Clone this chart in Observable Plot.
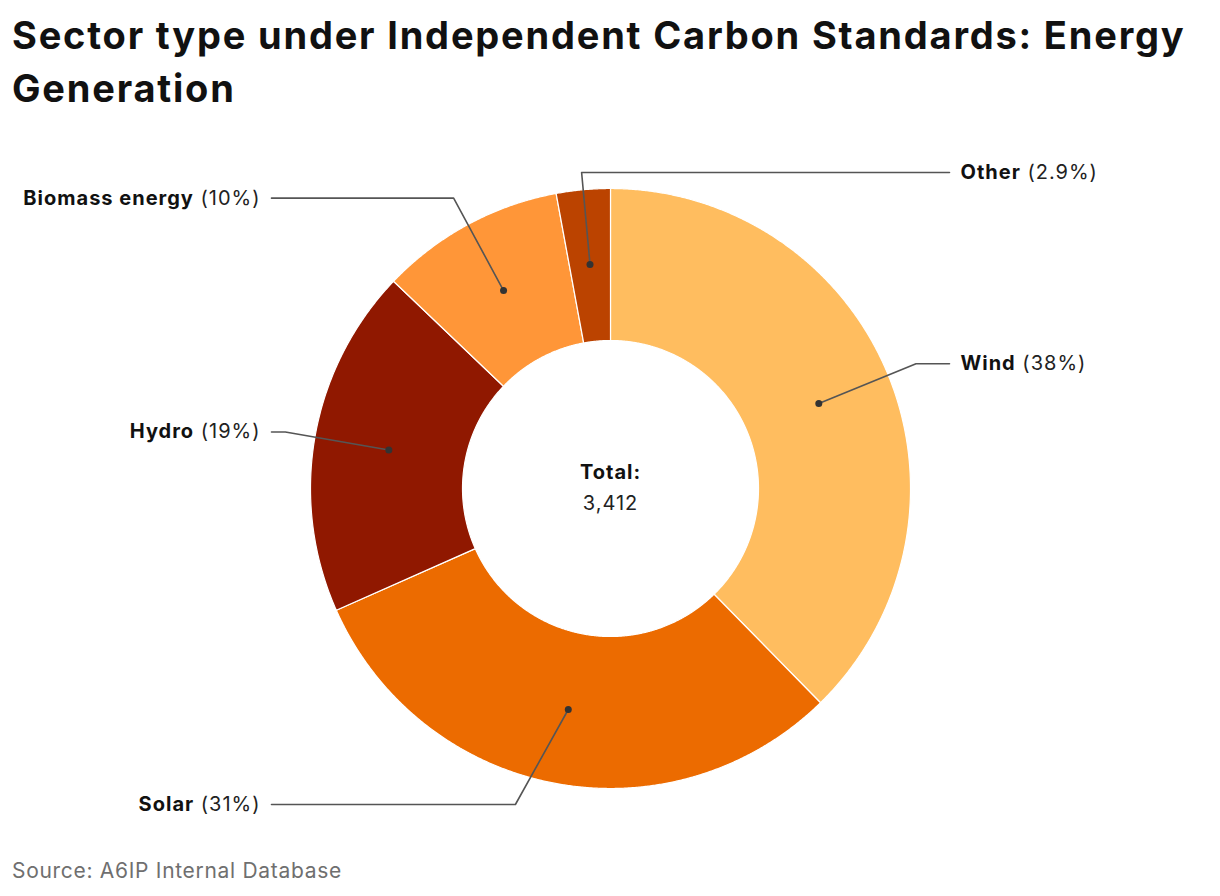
<!DOCTYPE html>
<html>
<head>
<meta charset="utf-8">
<script src="https://cdn.jsdelivr.net/npm/d3@7"></script>
<script src="https://cdn.jsdelivr.net/npm/@observablehq/plot@0.6"></script>
<style>
  html, body { margin: 0; padding: 0; background: #fff; }
  body { width: 1220px; font-family: Inter, "Noto Sans", sans-serif; color: #111; }
  #title { box-sizing: border-box; height: 128px; padding: 9px 12px 0 12px; font-weight: 700; font-size: 38px; line-height: 53px; letter-spacing: 1.8px; }
  #chart svg { display: block; }
  #source { margin-top: 11px; padding-left: 12px; font-size: 21px; line-height: 24px; letter-spacing: 0.7px; color: #6f6f6f; }
</style>
</head>
<body>
<div id="title">Sector type under Independent Carbon Standards: Energy Generation</div>
<div id="chart"></div>
<div id="source">Source: A6IP Internal Database</div>
<script>
// ---- data ----
const names = ["Wind", "Solar", "Hydro", "Biomass energy", "Other"];
const values = [1285, 1047, 641, 340, 99];
const colors = ["#ffbd5f", "#ec6b00", "#901800", "#ff9638", "#bb4300"];
const totalLabel = "Total:";

// ---- layout constants ----
const W = 1220, H = 720;
const R_OUT = 300, R_IN = 148, R_DOT = 225, R_ELBOW = 330, Y_LIMIT = 316;
const X_LINE_END = 339, X_LABEL = 350, MIN_GAP = 30;
const FONT = "Inter", FS = 20, LS = 1.0;

const total = d3.sum(values);
const fmtPct = d3.format(".2~p");
const arcs = d3.pie().sort(null)(values);

const pol = (r, a) => ({x: r * Math.sin(a), y: -r * Math.cos(a)});

// slice polygons
const slicePts = [];
arcs.forEach((a, i) => {
  const n = Math.max(2, Math.ceil((a.endAngle - a.startAngle) / (Math.PI / 720)));
  const pts = [];
  for (let k = 0; k <= n; k++) pts.push(pol(R_OUT, a.startAngle + (a.endAngle - a.startAngle) * k / n));
  for (let k = n; k >= 0; k--) pts.push(pol(R_IN, a.startAngle + (a.endAngle - a.startAngle) * k / n));
  pts.push(pts[0]);
  pts.forEach(p => slicePts.push({...p, name: names[i]}));
});

// leaders & labels
const leaderPts = [], dots = [], labels = [];
const ctx = document.createElement("canvas").getContext("2d");
const measure = (txt, weight) => { ctx.font = `${weight} ${FS}px ${FONT}`; return ctx.measureText(txt).width + LS * txt.length; };
const placed = {left: [], right: []};
arcs.forEach((a, i) => {
  const mid = (a.startAngle + a.endAngle) / 2;
  const d = pol(R_DOT, mid);
  let e = pol(R_ELBOW, mid);
  let right = e.x >= 0;
  const side0 = right ? "right" : "left";
  let flipped = false;
  const ey0 = Math.max(-Y_LIMIT, Math.min(Y_LIMIT, e.y));
  if (placed[side0].some(y => Math.abs(y - ey0) < MIN_GAP)) { right = !right; flipped = true; }
  if (Math.abs(e.y) > Y_LIMIT) {
    if (flipped) { const s = Y_LIMIT / Math.abs(e.y); e = {x: e.x * s, y: e.y * s}; }
    else { const y = Math.sign(e.y) * Y_LIMIT; e = {x: Math.sign(e.x) * Math.sqrt(R_ELBOW * R_ELBOW - y * y), y}; }
  }
  placed[right ? "right" : "left"].push(e.y);
  const endX = right ? X_LINE_END : -X_LINE_END;
  [d, e, {x: endX, y: e.y}].forEach(p => leaderPts.push({...p, name: names[i]}));
  dots.push({...d, name: names[i]});
  const pct = "(" + fmtPct(values[i] / total) + ")";
  const space = measure(" ", 400);
  if (right) {
    labels.push({x: X_LABEL, y: e.y, text: names[i], bold: true, anchor: "start"});
    labels.push({x: X_LABEL + measure(names[i], 700) + space, y: e.y, text: pct, bold: false, anchor: "start"});
  } else {
    labels.push({x: -X_LABEL, y: e.y, text: pct, bold: false, anchor: "end"});
    labels.push({x: -X_LABEL - measure(pct, 400) - space, y: e.y, text: names[i], bold: true, anchor: "end"});
  }
});

const center = [
  {x: 0, y: -16, text: totalLabel, bold: true},
  {x: 0, y: 15, text: d3.format(",")(total), bold: false}
];

const textOpts = (anchor, bold) => ({x: "x", y: "y", text: "text", textAnchor: anchor, fontSize: FS, fontWeight: bold ? 700 : 400, fill: bold ? "#111" : "#222"});

const plot = Plot.plot({
  width: W, height: H,
  margin: 0,
  x: {domain: [-W / 2, W / 2], range: [0, W], axis: null},
  y: {domain: [-H / 2, H / 2], range: [0, H], axis: null},
  color: {domain: names, range: colors},
  style: {fontFamily: FONT, background: "white", letterSpacing: LS + "px"},
  marks: [
    Plot.line(slicePts, {x: "x", y: "y", z: "name", fill: "name", stroke: "white", strokeWidth: 1.2, curve: "linear"}),
    Plot.line(leaderPts, {x: "x", y: "y", z: "name", stroke: "#555", strokeWidth: 1.6, curve: "linear"}),
    Plot.dot(dots, {x: "x", y: "y", r: 3.5, fill: "#333", stroke: "none"}),
    Plot.text(labels.filter(d => d.bold && d.anchor === "start"), textOpts("start", true)),
    Plot.text(labels.filter(d => !d.bold && d.anchor === "start"), textOpts("start", false)),
    Plot.text(labels.filter(d => d.bold && d.anchor === "end"), textOpts("end", true)),
    Plot.text(labels.filter(d => !d.bold && d.anchor === "end"), textOpts("end", false)),
    Plot.text(center.filter(d => d.bold), textOpts("middle", true)),
    Plot.text(center.filter(d => !d.bold), textOpts("middle", false))
  ]
});
document.getElementById("chart").appendChild(plot);
</script>
</body>
</html>
